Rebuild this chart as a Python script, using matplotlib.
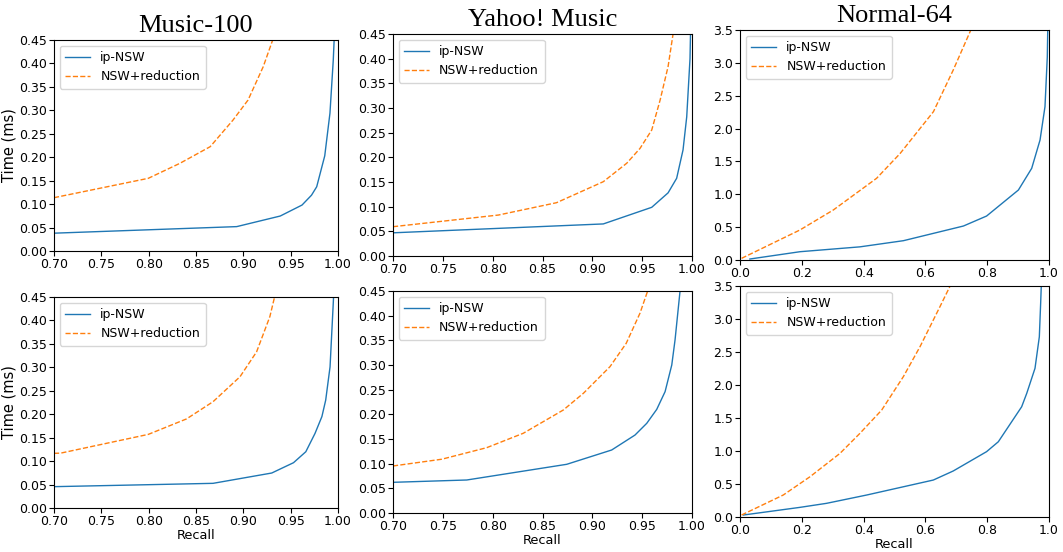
import matplotlib
matplotlib.use("Agg")
import matplotlib.pyplot as plt
import numpy as np

titles = ["Music-100", "Yahoo! Music", "Normal-64"]
series_names = ["ip-NSW", "NSW+reduction"]

# Top row
m100_ip_x = [0.70, 0.893, 0.939, 0.962, 0.972, 0.9775, 0.986, 0.9915, 0.995, 0.997]
m100_ip_y = [0.038, 0.052, 0.0746, 0.098, 0.119, 0.137, 0.203, 0.294, 0.407, 0.50]
m100_nr_x = [0.70, 0.7996, 0.833, 0.865, 0.889, 0.905, 0.921, 0.931, 0.934]
m100_nr_y = [0.1137, 0.155, 0.187, 0.2225, 0.279, 0.322, 0.393, 0.45, 0.47]

yahoo_ip_x = [0.70, 0.911, 0.9596, 0.976, 0.9846, 0.991, 0.9947, 0.998, 0.999]
yahoo_ip_y = [0.047, 0.065, 0.0987, 0.128, 0.1575, 0.215, 0.282, 0.40, 0.50]
yahoo_nr_x = [0.70, 0.8057, 0.864, 0.911, 0.9345, 0.9478, 0.9596, 0.968, 0.976, 0.981, 0.983]
yahoo_nr_y = [0.0594, 0.083, 0.108, 0.1506, 0.188, 0.218, 0.2554, 0.316, 0.384, 0.45, 0.48]

n64_ip_x = [0.032, 0.194, 0.388, 0.529, 0.723, 0.798, 0.901, 0.944, 0.971, 0.987, 0.9945, 0.997]
n64_ip_y = [0.015, 0.126, 0.20, 0.294, 0.517, 0.669, 1.065, 1.395, 1.826, 2.333, 3.09, 3.8]
n64_nr_x = [0.005, 0.194, 0.302, 0.442, 0.518, 0.626, 0.69, 0.747, 0.76]
n64_nr_y = [0.025, 0.457, 0.761, 1.243, 1.62, 2.257, 2.89, 3.5, 3.7]

# Bottom row
m100b_ip_x = [0.70, 0.868, 0.93, 0.953, 0.966, 0.9757, 0.983, 0.987, 0.9916, 0.995, 0.996]
m100b_ip_y = [0.0455, 0.0526, 0.0746, 0.0966, 0.12, 0.159, 0.195, 0.23, 0.301, 0.437, 0.48]
m100b_nr_x = [0.70, 0.707, 0.7996, 0.840, 0.868, 0.8965, 0.914, 0.928, 0.933, 0.936]
m100b_nr_y = [0.1166, 0.117, 0.157, 0.19, 0.2267, 0.280, 0.333, 0.408, 0.45, 0.47]

yahoob_ip_x = [0.70, 0.774, 0.8743, 0.9194, 0.9428, 0.9546, 0.9646, 0.973, 0.9797, 0.983, 0.988, 0.989]
yahoob_ip_y = [0.0622, 0.0669, 0.0987, 0.1277, 0.158, 0.1818, 0.21, 0.246, 0.30, 0.351, 0.45, 0.48]
yahoob_nr_x = [0.70, 0.7489, 0.794, 0.8307, 0.8709, 0.891, 0.9177, 0.934, 0.9478, 0.9555, 0.958]
yahoob_nr_y = [0.0953, 0.109, 0.1324, 0.1616, 0.2088, 0.2426, 0.2966, 0.344, 0.405, 0.45, 0.47]

n64b_ip_x = [0.011, 0.194, 0.28, 0.41, 0.6256, 0.69, 0.798, 0.836, 0.9115, 0.928, 0.9547, 0.9687, 0.973, 0.975, 0.977]
n64b_ip_y = [0.03, 0.146, 0.207, 0.333, 0.56, 0.697, 0.99, 1.14, 1.67, 1.874, 2.253, 2.73, 3.24, 3.5, 3.8]
n64b_nr_x = [0.005, 0.14, 0.2265, 0.3236, 0.388, 0.4585, 0.5286, 0.5825, 0.647, 0.68, 0.69]
n64b_nr_y = [0.03, 0.333, 0.61, 0.964, 1.267, 1.62, 2.126, 2.58, 3.186, 3.5, 3.65]

panels = [
    (m100_ip_x, m100_ip_y, m100_nr_x, m100_nr_y),
    (yahoo_ip_x, yahoo_ip_y, yahoo_nr_x, yahoo_nr_y),
    (n64_ip_x, n64_ip_y, n64_nr_x, n64_nr_y),
    (m100b_ip_x, m100b_ip_y, m100b_nr_x, m100b_nr_y),
    (yahoob_ip_x, yahoob_ip_y, yahoob_nr_x, yahoob_nr_y),
    (n64b_ip_x, n64b_ip_y, n64b_nr_x, n64b_nr_y),
]

W, H = 1063, 552
# pixel boxes: left, top, right, bottom
boxes = [
    (54, 40, 338, 251),
    (393, 34, 692, 256),
    (740, 30, 1049, 260),
    (54, 297, 338, 508),
    (393, 291, 692, 513),
    (740, 286, 1049, 517),
]

fig = plt.figure(figsize=(W / 100, H / 100), dpi=100)
plt.rcParams['font.family'] = ['DejaVu Sans']

blue = '#1f77b4'
orange = '#ff7f0e'

for i, ((ix, iy, nx, ny), (l, t, r, b)) in enumerate(zip(panels, boxes)):
    ax = fig.add_axes([l / W, 1 - b / H, (r - l) / W, (b - t) / H])
    ax.plot(ix, iy, color=blue, lw=1.0, label=series_names[0])
    ax.plot(nx, ny, color=orange, lw=1.0, ls='--', label=series_names[1])
    col = i % 3
    if col < 2:
        ax.set_xlim(0.70, 1.00)
        ax.set_ylim(0.0, 0.45)
        ax.set_xticks(np.arange(0.70, 1.001, 0.05))
        ax.set_yticks(np.arange(0.0, 0.451, 0.05))
        ax.xaxis.set_major_formatter(matplotlib.ticker.FormatStrFormatter('%.2f'))
        ax.yaxis.set_major_formatter(matplotlib.ticker.FormatStrFormatter('%.2f'))
    else:
        ax.set_xlim(0.0, 1.0)
        ax.set_ylim(0.0, 3.5)
        ax.set_xticks(np.arange(0.0, 1.001, 0.2))
        ax.set_yticks(np.arange(0.0, 3.501, 0.5))
        ax.xaxis.set_major_formatter(matplotlib.ticker.FormatStrFormatter('%.1f'))
        ax.yaxis.set_major_formatter(matplotlib.ticker.FormatStrFormatter('%.1f'))
    ax.tick_params(labelsize=9, length=3.5, width=0.8, pad=1.5)
    for s in ax.spines.values():
        s.set_linewidth(0.8)
    ax.legend(loc='upper left', fontsize=9, handlelength=2.0, borderpad=0.45,
              labelspacing=0.45, handletextpad=0.8, borderaxespad=0.45)
    if i < 3:
        ax.set_title(titles[i], family='Liberation Serif', fontsize=19, pad=5.8)
    if col == 0:
        ax.set_ylabel('Time (ms)', fontsize=10.5, labelpad=2)
    if i >= 3:
        ax.set_xlabel('Recall', fontsize=9.3, labelpad=0.5)

fig.savefig('out.png', dpi=100)
